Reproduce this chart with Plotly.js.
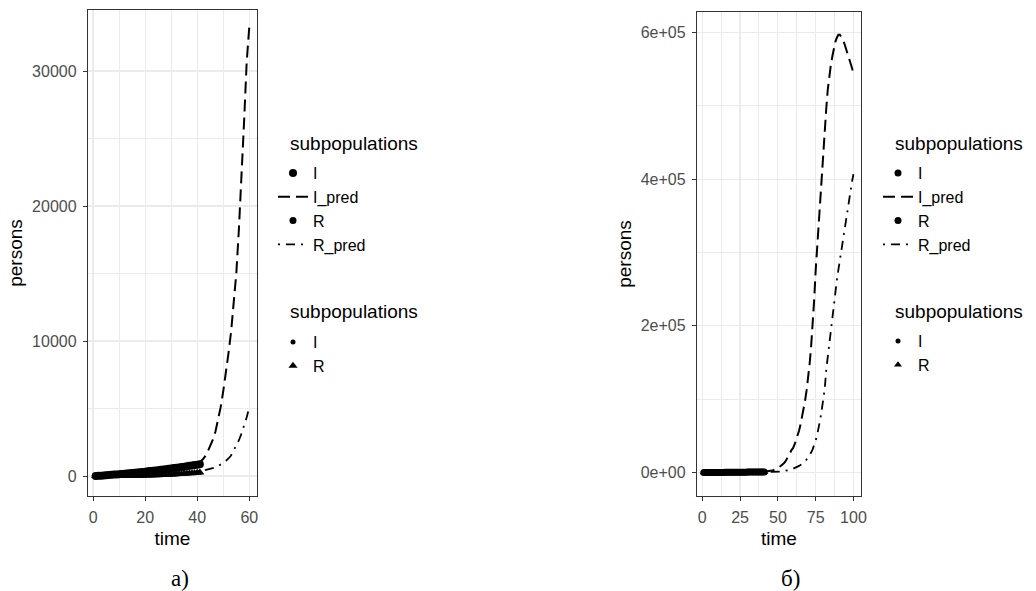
<!DOCTYPE html>
<html><head><meta charset="utf-8">
<script src="https://cdn.plot.ly/plotly-3.0.1.min.js"></script>
<style>html,body{margin:0;padding:0;background:#fff}#chart{width:1036px;height:591px}</style>
</head><body><div id="chart"></div>
<script>
// ---- data ----
const timeObs = [1,2,3,4,5,6,7,8,9,10,11,12,13,14,15,16,17,18,19,20,21,22,23,24,25,26,27,28,29,30,31,32,33,34,35,36,37,38,39,40,41];
const iObs = [5,15,28,42,57,72,88,104,120,137,154,171,189,207,225,244,263,283,303,324,345,367,389,412,435,459,483,508,533,559,585,612,639,667,695,724,753,783,813,844,875];
const rObs = [0,0,0,0,0,1,1,2,3,4,5,7,9,11,14,17,20,24,28,33,38,44,50,57,64,72,80,89,98,108,119,130,142,155,168,182,197,212,228,245,262];
const predTime = [40,41,42,43,44,45,46,47,48,49,50,51,52,53,54,55,56,57,58,59,60,61,62,63,64,65,66,67,68,69,70,71,72,73,74,75,76,77,78,79,80,81,82,83,84,85,86,87,88,89,90,91,92,93,94,95,96,97,98,99,100];
const iPred = [870,1000,1200,1450,1800,2200,2700,3300,4100,5100,6300,7600,9100,10700,12700,15000,18300,22000,26300,30700,33300,37900,43500,50000,57000,65500,75000,86000,98000,112000,128000,148000,172000,200000,235000,275000,308000,342000,375000,407000,437000,466000,496000,522000,542000,555000,567000,578000,587000,593000,597000,597000,594000,590000,585000,579000,573000,566000,559000,552000,544000];
const rPred = [300,350,380,420,460,510,570,640,730,840,970,1120,1300,1520,1900,2250,2650,3150,3700,4350,5100,5900,6800,7800,9000,10300,11800,13500,15500,17800,20400,23500,27200,31600,37000,43500,51500,61000,72000,85000,99000,114000,140000,158000,177000,196000,214000,231000,247000,262000,276000,290000,303000,317000,331000,345000,358000,371000,384000,396000,407000];
const leftLimit = 60;
const leftXTicks = [0,20,40,60];
const leftXMinor = [10,30,50];
const leftYTicks = [0,10000,20000,30000];
const leftYLabels = ['0','10000','20000','30000'];
const leftYMinor = [5000,15000,25000];
const rightXTicks = [0,25,50,75,100];
const rightXMinor = [12.5,37.5,62.5,87.5];
const rightYTicks = [0,200000,400000,600000];
const rightYLabels = ['0e+00','2e+05','4e+05','6e+05'];
const rightYMinor = [100000,300000,500000];
const legendTitle = 'subpopulations';
const captions = ['а)','б)'];

// ---- layout helpers ----
const W=1036,H=591,ML=88,MR=175,MT=10,MB=95;
const PW=W-ML-MR, PH=H-MT-MB;
const px = X => (X-ML)/PW;
const py = Y => (H-MB-Y)/PH;
const FONT = 'Liberation Sans, Arial, sans-serif';

const leftIdx = predTime.map((t,i)=>i).filter(i=>predTime[i]<=leftLimit);
const pt = leftIdx.map(i=>predTime[i]);
const ip = leftIdx.map(i=>iPred[i]);
const rp = leftIdx.map(i=>rPred[i]);

const DASH = '12px,6px';
const DOTDASH = '2px,6px,9px,6px';

function panelTraces(xa, ya, lgA, lgB, tx, iy, ry, ms){
  return [
    {x:timeObs, y:iObs, xaxis:xa, yaxis:ya, mode:'markers', name:'I', legend:lgA,
     marker:{symbol:'circle', size:ms, color:'#000'}, hoverinfo:'skip'},
    {x:tx, y:iy, xaxis:xa, yaxis:ya, mode:'lines', name:'I_pred', legend:lgA,
     line:{color:'#000', width:2, dash:DASH}, hoverinfo:'skip'},
    {x:[null], y:[null], xaxis:xa, yaxis:ya, mode:'markers', name:'R', legend:lgA,
     marker:{symbol:'circle', size:7, color:'#000'}},
    {x:tx, y:ry, xaxis:xa, yaxis:ya, mode:'lines', name:'R_pred', legend:lgA,
     line:{color:'#000', width:1.8, dash:DOTDASH}, hoverinfo:'skip'},
    {x:[null], y:[null], xaxis:xa, yaxis:ya, mode:'markers', name:'I', legend:lgB,
     marker:{symbol:'circle', size:5, color:'#000'}},
    {x:timeObs, y:rObs, xaxis:xa, yaxis:ya, mode:'markers', name:'R', legend:lgB,
     marker:{symbol:'triangle-up', size:ms, color:'#000'}, hoverinfo:'skip'}
  ];
}

const data = [].concat(
  panelTraces('x','y','legend','legend2', pt, ip, rp, 8),
  panelTraces('x2','y2','legend3','legend4', predTime, iPred, rPred, 7)
);

const axisBase = {
  showline:true, mirror:true, linecolor:'#333333', linewidth:1.2,
  ticks:'outside', ticklen:4, tickwidth:1, tickcolor:'#333333',
  showgrid:true, gridcolor:'#ebebeb', gridwidth:1.2, zeroline:false,
  tickfont:{family:FONT, size:16, color:'#4d4d4d'}, tickmode:'array',
  ticklabelstandoff:3
};
function ax(extra){ return Object.assign({}, axisBase, extra); }
const minor = v => ({tickmode:'array', tickvals:v, showgrid:true, gridcolor:'#ebebeb', gridwidth:1, ticks:''});

function legendAt(X, Y){
  return {x:px(X), y:py(Y), xanchor:'left', yanchor:'top', bgcolor:'rgba(0,0,0,0)',
    borderwidth:0, font:{family:FONT, size:16, color:'#000'}, itemwidth:30,
    traceorder:'normal', itemclick:false, itemdoubleclick:false};
}

const layout = {
  width:W, height:H, margin:{l:ML, r:MR, t:MT, b:MB},
  paper_bgcolor:'#fff', plot_bgcolor:'#fff', showlegend:true,
  font:{family:FONT, color:'#000'},
  xaxis: ax({domain:[0,(257-ML)/PW], range:[-1.95,62.95], tickvals:leftXTicks, minor:minor(leftXMinor),
    anchor:'y', title:{text:'time', font:{size:19, color:'#000'}, standoff:6}}),
  yaxis: ax({domain:[0,1], range:[-1480,34520], tickvals:leftYTicks, ticktext:leftYLabels, minor:minor(leftYMinor),
    anchor:'x', title:{text:'persons', font:{size:19, color:'#000'}, standoff:4}}),
  xaxis2: ax({domain:[(697-ML)/PW,1], range:[-3.5,105], tickvals:rightXTicks, minor:minor(rightXMinor),
    anchor:'y2', title:{text:'time', font:{size:19, color:'#000'}, standoff:6}}),
  yaxis2: ax({domain:[0,py(12)], range:[-32000,628000], tickvals:rightYTicks, ticktext:rightYLabels, minor:minor(rightYMinor),
    anchor:'x2', title:{text:'persons', font:{size:19, color:'#000'}, standoff:4}}),
  legend: legendAt(273,156),
  legend2: legendAt(273,325),
  legend3: legendAt(878,156),
  legend4: legendAt(878,324),
  annotations:[
    {xref:'paper', yref:'paper', x:px(288), y:py(144), xanchor:'left', yanchor:'middle', showarrow:false,
     text:legendTitle, font:{family:FONT, size:19, color:'#000'}},
    {xref:'paper', yref:'paper', x:px(288), y:py(311), xanchor:'left', yanchor:'middle', showarrow:false,
     text:legendTitle, font:{family:FONT, size:19, color:'#000'}},
    {xref:'paper', yref:'paper', x:px(893), y:py(144), xanchor:'left', yanchor:'middle', showarrow:false,
     text:legendTitle, font:{family:FONT, size:19, color:'#000'}},
    {xref:'paper', yref:'paper', x:px(893), y:py(311), xanchor:'left', yanchor:'middle', showarrow:false,
     text:legendTitle, font:{family:FONT, size:19, color:'#000'}},
    {xref:'paper', yref:'paper', x:px(180), y:py(578), xanchor:'center', yanchor:'middle', showarrow:false,
     text:captions[0], font:{family:'Liberation Serif, Times New Roman, serif', size:23, color:'#000'}},
    {xref:'paper', yref:'paper', x:px(790), y:py(578), xanchor:'center', yanchor:'middle', showarrow:false,
     text:captions[1], font:{family:'Liberation Serif, Times New Roman, serif', size:23, color:'#000'}}
  ]
};

Plotly.newPlot('chart', data, layout, {staticPlot:true, displayModeBar:false});
</script>
</body></html>
